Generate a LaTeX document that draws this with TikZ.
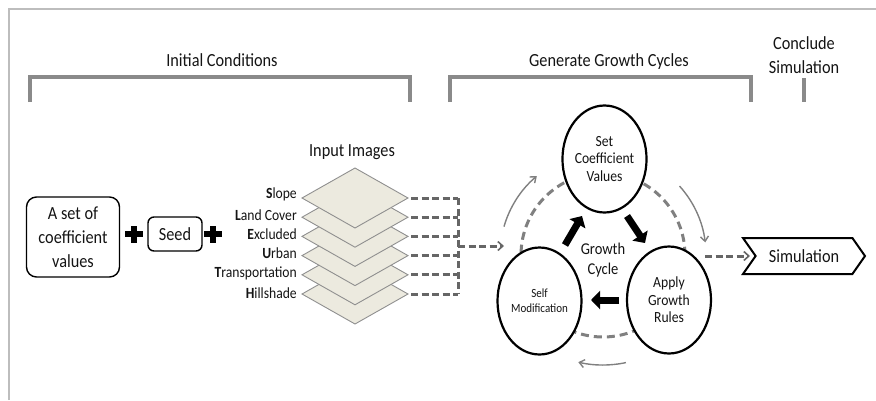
\documentclass[tikz,border=0pt]{standalone}
\usepackage{fontspec}
\setmainfont{Carlito}[FakeStretch=0.88]
\usetikzlibrary{arrows.meta,shapes.geometric,shapes.symbols}
\definecolor{txt}{HTML}{141414}
\definecolor{brk}{HTML}{8A8A8A}
\definecolor{frm}{HTML}{BDBDBD}
\definecolor{dsh}{HTML}{666666}
\definecolor{cycgray}{HTML}{808080}
\definecolor{layerfill}{HTML}{ECEADF}
\definecolor{layeredge}{HTML}{8F8F8F}
\begin{document}
\begin{tikzpicture}[x=1pt,y=-1pt,
  every node/.style={text=txt, inner sep=0pt},
  bracket/.style={draw=brk, line width=3.2pt},
  f18/.style={font=\fontsize{18.5}{24}\selectfont},
  f16/.style={font=\fontsize{16.5}{20}\selectfont},
  f15/.style={font=\fontsize{15.5}{17.5}\selectfont},
  f12/.style={font=\fontsize{12.5}{15}\selectfont},
  fl/.style={font=\fontsize{15.5}{19}\selectfont},
  rbox/.style={draw=black, line width=1.4pt, align=center, f18},
  cnode/.style={ellipse, draw=black, line width=2.2pt, fill=white, minimum width=84pt, minimum height=107pt, align=center},
  dashc/.style={draw=dsh, line width=3pt, dash pattern=on 7pt off 3.5pt},
  dasharrow/.style={dashc, -{Straight Barb[length=5pt,width=9pt,line width=1.6pt]}},
  cyclearc/.style={draw=cycgray, line width=1.4pt, -{Straight Barb[length=5pt,width=8pt]}},
  blockarrow/.style={draw=black, line width=7pt, -{Triangle[length=9pt,width=18pt]}},
  layershape/.style={fill=layerfill, draw=layeredge, line width=0.9pt},
  plusbar/.style={fill=black},
]
\useasboundingbox (0,0) rectangle (876,400);

% frame corner
\draw[draw=frm, line width=1.3pt] (9,400) -- (9,9) -- (876,9);

% brackets and headings
\draw[bracket] (30,102) -- (30,77) -- (410,77) -- (410,102);
\draw[bracket] (450,102) -- (450,77) -- (751,77) -- (751,102);
\draw[bracket] (804,78) -- (804,102);
\node[f18, anchor=base] (ic) at (222,66) {Initial Conditions};
\node[f18, anchor=base] (ggc) at (609,66) {Generate Growth Cycles};
\node[f18, align=center] (cs) at (804,55) {Conclude\\Simulation};

% left boxes
\node[rbox, rounded corners=10pt, minimum width=93pt, minimum height=80pt] (coef) at (73,237) {A set of\\coefficient\\values};
\node[rbox, rounded corners=6pt, minimum width=54pt, minimum height=34pt] (seed) at (175,234) {Seed};
\foreach \px/\nm in {134/plusA, 213/plusB} {
  \coordinate (\nm) at (\px,234);
  \fill[plusbar] ([xshift=-9pt,yshift=-3.2pt]\nm) rectangle ([xshift=9pt,yshift=3.2pt]\nm);
  \fill[plusbar] ([xshift=-3.2pt,yshift=-8.5pt]\nm) rectangle ([xshift=3.2pt,yshift=8.5pt]\nm);
}

% input images
\node[f18, anchor=base] (ii) at (352,156) {Input Images};
\foreach \i in {5,4,...,0} {
  \pgfmathsetmacro\yy{198+19.2*\i}
  \path[layershape] (302,\yy) -- (355,\yy-30) -- (408,\yy) -- (355,\yy+30) -- cycle;
  \coordinate (L\i) at (408,\yy);
}
\node[fl, anchor=east] (lab0) at (297,194) {\textbf{S}lope};
\node[fl, anchor=east] (lab1) at (297,215) {\textbf{L}and Cover};
\node[fl, anchor=east] (lab2) at (297,234) {\textbf{E}xcluded};
\node[fl, anchor=east] (lab3) at (297,253) {\textbf{U}rban};
\node[fl, anchor=east] (lab4) at (297,273) {\textbf{T}ransportation};
\node[fl, anchor=east] (lab5) at (297,293) {\textbf{H}illshade};

\coordinate (jx) at (458,0);
\foreach \i in {0,...,5} {
  \draw[dashc] ([xshift=3pt]L\i) -- (L\i -| jx);
}
\draw[dashc] (L0 -| jx) -- (L5 -| jx);
\coordinate (join) at (458,246);
\coordinate (inarrow) at (504,246);
\draw[dasharrow] (join) -- (inarrow);

% growth cycle
\coordinate (cc) at (603,255);
\draw[draw=cycgray, line width=3pt, dash pattern=on 8pt off 5pt] (cc) circle[radius=82];

\node[cnode, f15] (setc) at (604.5,159) {Set\\Coefficient\\Values};
\node[cnode, f12] (self) at (539.5,301) {Self\\Modification};
\node[cnode, f15] (apply) at (669,300) {Apply\\Growth\\Rules};
\node[f16, align=center] (gc) at (603,260) {Growth\\Cycle};

\coordinate (b1s) at (565,245); \coordinate (b1e) at (582,216);
\coordinate (b2s) at (627,216); \coordinate (b2e) at (645,243);
\coordinate (b3s) at (619,300); \coordinate (b3e) at (591,300);
\draw[blockarrow] (b1s) -- (b1e);
\draw[blockarrow] (b2s) -- (b2e);
\draw[blockarrow] (b3s) -- (b3e);

\draw[cyclearc] ([shift={(-164:103)}]cc) arc[start angle=-164, end angle=-130, radius=103];
\draw[cyclearc] ([shift={(-42:103)}]cc) arc[start angle=-42, end angle=-7, radius=103];
\draw[cyclearc] ([shift={(78:110)}]cc) arc[start angle=78, end angle=103, radius=110];

% simulation
\node[signal, signal to=east, signal from=west, draw=black, line width=2pt,
      minimum width=122pt, minimum height=36pt, signal pointer angle=110, f18] (sim) at (804,256) {Simulation};
\coordinate (simout) at (705,256);
\coordinate (simin) at (750,256);
\draw[dasharrow] (simout) -- (simin);
\end{tikzpicture}
\end{document}
